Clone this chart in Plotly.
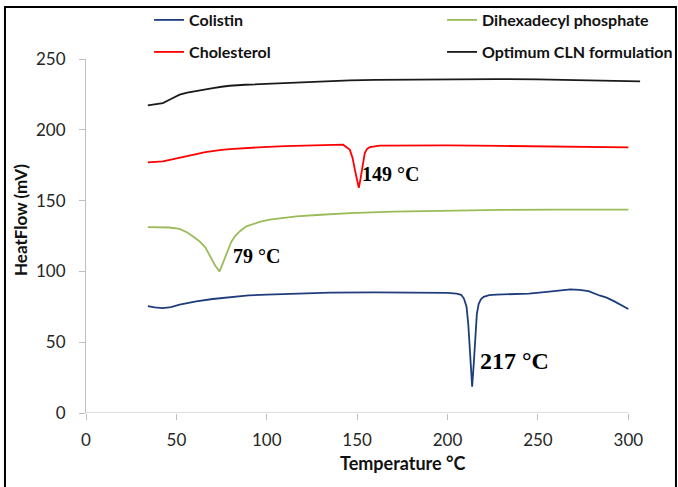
import plotly.graph_objects as go

# ---------------- data ----------------
colistin_T = [34.2, 38, 42.5, 47, 51.8, 56, 61, 70, 80, 90, 100, 115, 135, 160, 185, 200, 205,
              207.5, 209, 210.5, 211.5, 212.5, 213.6, 214.5, 215.3, 216.2, 217.2, 218.5, 220,
              223, 227, 235, 245, 255, 262, 268, 273, 278, 284, 288, 292, 296, 300]
colistin_V = [75.5, 74.6, 74.1, 74.8, 76.5, 77.6, 78.8, 80.5, 82.0, 83.0, 83.6, 84.3, 85.0, 85.2,
              85.0, 84.8, 84.3, 83.5, 81.0, 75.0, 62.0, 40.0, 18.5, 35.0, 55.0, 70.0, 77.0, 80.5,
              82.0, 83.3, 83.6, 84.0, 84.3, 85.5, 86.5, 87.3, 87.0, 86.0, 83.0, 81.5, 79.0, 76.5, 73.5]

cholesterol_T = [34.2, 38, 42.5, 47, 51.8, 56, 61, 66, 70.2, 75, 79.5, 88, 97.9, 110, 125.6, 135,
                 142.2, 145.9, 147.5, 148.7, 150, 150.9, 151.8, 152.7, 153.5, 154.2, 155.5, 157,
                 162.5, 175, 200, 230, 260, 280, 300]
cholesterol_V = [177.0, 177.2, 177.7, 179.0, 180.5, 181.7, 182.9, 184.2, 185.2, 185.9, 186.4, 187.2,
                 187.8, 188.5, 189.0, 189.3, 189.5, 186.0, 180.0, 172.0, 163.0, 159.0, 165.0, 172.0,
                 179.0, 183.6, 186.5, 187.8, 188.8, 189.0, 189.0, 188.6, 188.2, 188.0, 187.6]

dhp_T = [34.2, 40, 46, 51.8, 56, 60, 63, 66, 69.3, 71.5, 73.9, 75.5, 77, 78.5, 80.4, 82.5, 85, 88.7,
         96, 101.6, 116.4, 130, 146, 170, 200, 230, 260, 300]
dhp_V = [131.3, 131.2, 131.0, 130.0, 127.5, 124.0, 121.0, 117.0, 109.0, 104.0, 100.0, 105.0, 110.5,
         115.0, 121.0, 125.0, 128.2, 131.8, 134.9, 136.5, 138.8, 140.0, 141.2, 142.2, 143.0, 143.4,
         143.6, 143.6]

cln_T = [34.2, 38, 42.5, 47, 51.8, 56, 61, 65, 70.2, 75, 79.5, 88, 97.9, 110, 125.6, 135, 145.9, 160,
         180, 200, 227, 250, 273, 290, 300, 306.5]
cln_V = [217.2, 217.8, 218.9, 221.8, 224.8, 226.3, 227.6, 228.6, 229.5, 230.4, 231.1, 231.8, 232.3,
         233.2, 234.0, 234.3, 234.9, 235.2, 235.5, 235.7, 235.8, 235.6, 234.9, 234.8, 234.6, 234.2]

x_ticks = [0, 50, 100, 150, 200, 250, 300]
y_ticks = [0, 50, 100, 150, 200, 250]

peak_labels = ["79 °C", "149 °C", "217 °C"]
peak_pos_T = [81.3, 152.7, 217.9]
peak_pos_V = [110.6, 168.8, 36.4]
peak_sizes = [20, 20, 24]

# ---------------- figure ----------------
AX = "#bfbfbf"
fig = go.Figure()
fig.add_trace(go.Scatter(x=colistin_T, y=colistin_V, mode="lines", name="Colistin",
                         line=dict(color="#1F3D7C", width=1.8), legend="legend"))
fig.add_trace(go.Scatter(x=cholesterol_T, y=cholesterol_V, mode="lines", name="Cholesterol",
                         line=dict(color="#FF0000", width=1.8), legend="legend2"))
fig.add_trace(go.Scatter(x=dhp_T, y=dhp_V, mode="lines", name="Dihexadecyl phosphate",
                         line=dict(color="#9BBB59", width=1.8), legend="legend3"))
fig.add_trace(go.Scatter(x=cln_T, y=cln_V, mode="lines", name="Optimum CLN formulation",
                         line=dict(color="#1A1A1A", width=1.8), legend="legend4"))

legend_common = dict(orientation="v", xanchor="left", yanchor="middle",
                     font=dict(family="Lato", size=16, color="#111", weight="bold"),
                     bgcolor="rgba(0,0,0,0)", itemclick=False)

col1 = 0.1136
col2 = col1 + 293 / 555
row1 = (413 - 20) / 354
row2 = (413 - 52) / 354

fig.update_layout(
    width=678, height=487,
    margin=dict(l=86, r=37, t=59, b=74, autoexpand=False),
    paper_bgcolor="white", plot_bgcolor="white",
    showlegend=True,
    legend=dict(x=col1, y=row1, **legend_common),
    legend2=dict(x=col1, y=row2, **legend_common),
    legend3=dict(x=col2, y=row1, **legend_common),
    legend4=dict(x=col2, y=row2, **legend_common),
    xaxis=dict(range=[0, 307], tickvals=x_ticks, ticks="outside", ticklen=6, tickcolor=AX,
               showline=False, showgrid=False, zeroline=False, ticklabelstandoff=6,
               tickfont=dict(family="Lato", size=17, color="#262626")),
    yaxis=dict(range=[0, 250], tickvals=y_ticks, ticks="outside", ticklen=6, tickcolor=AX,
               showline=True, linecolor=AX, linewidth=1, showgrid=False, zeroline=False,
               ticklabelstandoff=10,
               tickfont=dict(family="Lato", size=17, color="#262626")),
)

# x-axis line only from 0 to 300 (as in the reference)
fig.add_shape(type="line", xref="x", yref="y", x0=0, x1=300, y0=0, y1=0,
              line=dict(color=AX, width=1))
# outer frame
fig.add_shape(type="rect", xref="paper", yref="paper", x0=-0.146, x1=1.063, y0=-0.25, y1=1.147,
              line=dict(color="black", width=2), layer="above")

for txt, tx, ty, sz in zip(peak_labels, peak_pos_T, peak_pos_V, peak_sizes):
    fig.add_annotation(x=tx, y=ty, xref="x", yref="y", text=txt, showarrow=False,
                       xanchor="left", yanchor="middle", xshift=-2,
                       font=dict(family="Liberation Serif", size=sz, color="black", weight="bold"))

fig.add_annotation(xref="paper", yref="paper", x=(20 - 86) / 555, y=(413 - 220) / 354,
                   text="HeatFlow (mV)", textangle=-90, showarrow=False,
                   xanchor="center", yanchor="middle",
                   font=dict(family="Lato", size=17, color="#111", weight="bold"))
fig.add_annotation(xref="paper", yref="paper", x=(403 - 86) / 555, y=(413 - 463) / 354,
                   text="Temperature °C", showarrow=False, xanchor="center", yanchor="middle",
                   font=dict(family="Lato", size=18, color="#111", weight="bold"))

fig.write_html("out.html", config={"displayModeBar": False},
               post_script="document.body.style.margin='0';document.body.style.overflow='hidden';")
